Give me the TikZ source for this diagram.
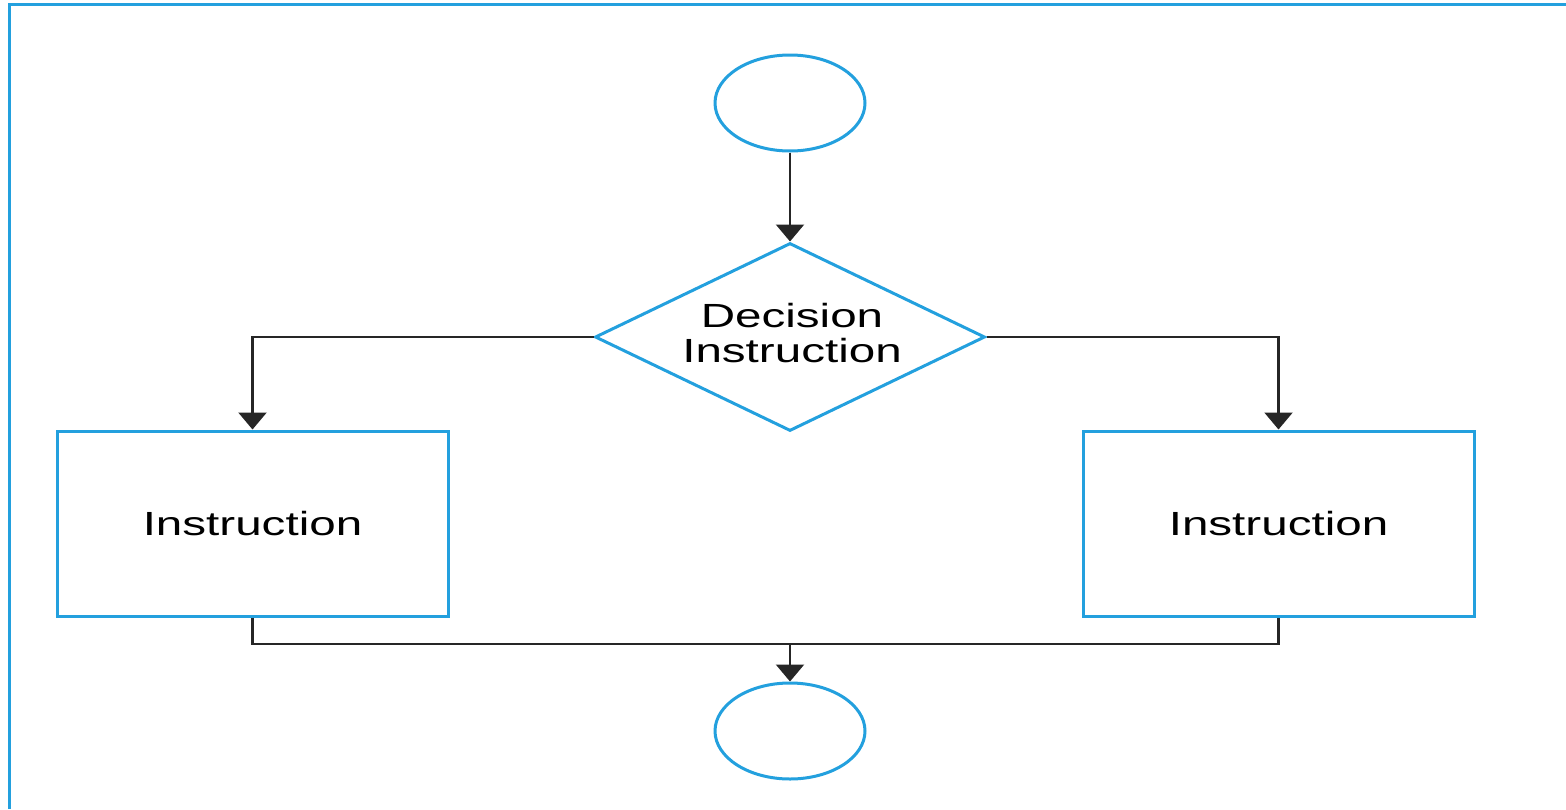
\documentclass[tikz,border=0pt]{standalone}
\usepackage{fontspec}
\newfontfamily\lab{Liberation Sans}[FakeStretch=1.42]
\usetikzlibrary{shapes.geometric,arrows.meta}
\definecolor{flowblue}{RGB}{35,160,222}
\tikzset{
  shapeline/.style={draw=flowblue, line width=3pt, fill=white},
  terminal/.style={shapeline, ellipse, minimum width=150pt, minimum height=96pt, inner sep=0pt},
  decision/.style={shapeline, diamond, minimum width=390pt, minimum height=188pt, inner sep=0pt},
  stepbox/.style={shapeline, rectangle, minimum width=391pt, minimum height=185pt, inner sep=0pt,
    font=\lab\fontsize{33.5}{35}\selectfont},
  textlabel/.style={font=\lab\fontsize{33.5}{35}\selectfont, align=center, inner sep=0pt},
  flow/.style={draw=black!85, line width=2.3pt},
  flowarrow/.style={flow, -{Triangle[width=28pt,length=17pt]}},
}
\begin{document}
\begin{tikzpicture}[x=1pt,y=-1pt]
  \useasboundingbox (0,0) rectangle (1566,809);
  % frame edges
  \draw[flowblue, line width=3.5pt] (9.5,809) -- (9.5,4.5) -- (1566,4.5);

  % shapes
  \node[terminal] (start) at (790,103) {};
  \node[decision] (dec) at (790,337) {};
  \node[textlabel] (declabel) at (792,333) {Decision\\Instruction};
  \node[stepbox] (left) at (252.5,523.5) {Instruction};
  \node[stepbox] (right) at (1278.5,523.5) {Instruction};
  \node[terminal] (stop) at (790,731) {};

  % connectors
  \coordinate (join) at (790,644);
  \draw[flowarrow] (start.south) -- (dec.north);
  \draw[flowarrow] (dec.west) -| (left.north);
  \draw[flowarrow] (dec.east) -| (right.north);
  \draw[flow] (left.south) |- (join) -| (right.south);
  \draw[flowarrow] (join) -- (stop.north);
\end{tikzpicture}
\end{document}
